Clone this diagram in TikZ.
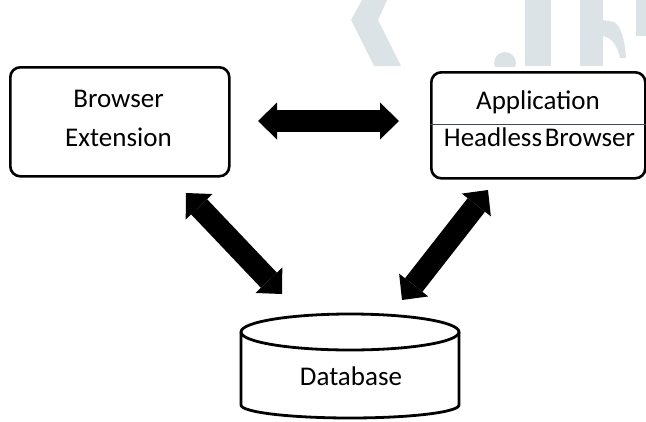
\documentclass[tikz,border=0pt]{standalone}
\usepackage{fontspec}
\setmainfont{Carlito}
\usetikzlibrary{arrows.meta}

\definecolor{markgray}{HTML}{DCE3E7}
\definecolor{rulegray}{HTML}{3A4A5A}

\tikzset{
  boxframe/.style={draw=black, line width=2.6pt, rounded corners=10pt},
  label/.style={font=\fontsize{27}{32}\selectfont, text=black, inner sep=0pt, anchor=base},
  blockarrow/.style={line width=22pt, draw=black,
    {Triangle[length=19pt, width=37pt, line width=0pt]}-{Triangle[length=19pt, width=37pt, line width=0pt]}},
  dbline/.style={draw=black, line width=2.8pt}
}

\begin{document}
\begin{tikzpicture}[x=1pt, y=-1pt]
  \useasboundingbox (0,0) rectangle (646,421);

  % faint logo mark in the top right corner
  \begin{scope}
    \clip (340,0) rectangle (646,66);
    \fill[markgray] (362,0) -- (387,0) -- (378,20) -- (401,66) -- (374,66) -- (351,20) -- cycle;
    \fill[markgray] (505,63) circle[radius=11pt];
    \fill[markgray] (525,0) rectangle (551,66);
    \fill[markgray] (580,0) rectangle (603,66);
    \fill[markgray] (603,20) -- (614,22) .. controls (621,26) and (625,40) .. (626,58)
      -- (620,58) .. controls (617,45) and (612,38) .. (603,36) -- cycle;
    \fill[markgray] (636,0) rectangle (646,36);
  \end{scope}

  % browser extension box
  \node[boxframe, minimum width=219pt, minimum height=109pt, anchor=north west] (ext) at (9,66) {};
  \node[label] (extA) at (118.5,107) {Browser};
  \node[label] (extB) at (118.5,146) {Extension};

  % application / headless browser box
  \node[boxframe, minimum width=214pt, minimum height=106pt, anchor=north west] (app) at (430,71) {};
  \draw[rulegray, line width=0.9pt] (app.west |- 0,124) -- (app.east |- 0,124);
  \node[label] (appA) at (538,109) {Application};
  \node[label] (appB) at (539.5,146) {Headless\hspace{0.1em}Browser};

  % database cylinder
  \node[label] (db) at (351,385) {Database};
  \draw[dbline] (350,332) ellipse[x radius=109pt, y radius=18pt];
  \draw[dbline] (241,332) -- (241,405)
    arc[start angle=180, end angle=360, x radius=109pt, y radius=13pt]
    -- (459,332);

  % connector end points
  \coordinate (hL) at (258,121);
  \coordinate (hR) at (399,121);
  \coordinate (lU) at (186,193);
  \coordinate (lD) at (282,294);
  \coordinate (rU) at (488,190);
  \coordinate (rD) at (402,300);

  % block double arrows
  \draw[blockarrow] (hL) -- (hR);
  \draw[blockarrow] (lU) -- (lD);
  \draw[blockarrow] (rU) -- (rD);
\end{tikzpicture}
\end{document}
